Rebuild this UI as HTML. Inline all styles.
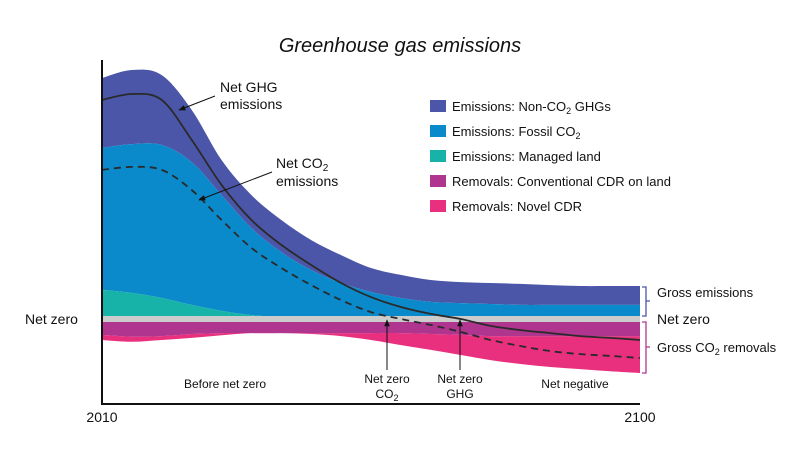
<!DOCTYPE html>
<html><head><meta charset="utf-8"><style>
body{margin:0;background:#fff;}
svg{display:block;font-family:"Liberation Sans",sans-serif;}
</style></head><body>
<svg id="c" width="800" height="460" viewBox="0 0 800 460">
<defs><marker id="ah" viewBox="0 0 10 10" refX="9" refY="5" markerWidth="7" markerHeight="7" orient="auto"><path d="M0,1 L10,5 L0,9 z" fill="#111"/></marker></defs>
<text x="400" y="52" text-anchor="middle" font-size="20" font-style="italic" fill="#111">Greenhouse gas emissions</text>
<g id="areas"></g>
<g id="lines"></g>
<line x1="102" y1="60" x2="102" y2="405" stroke="#111" stroke-width="2"/>
<line x1="101" y1="404" x2="640" y2="404" stroke="#111" stroke-width="2"/>
<text x="102" y="422" text-anchor="middle" font-size="14" fill="#111">2010</text>
<text x="640" y="422" text-anchor="middle" font-size="14" fill="#111">2100</text>
<text x="25" y="324" font-size="14" fill="#111">Net zero</text>
<g font-size="13" fill="#111">
<rect x="430" y="100" width="16" height="12" fill="#4b56a8"/><text x="452" y="111">Emissions: Non-CO<tspan font-size="9" dy="3">2</tspan><tspan dy="-3"> GHGs</tspan></text>
<rect x="430" y="125" width="16" height="12" fill="#0a8acb"/><text x="452" y="136">Emissions: Fossil CO<tspan font-size="9" dy="3">2</tspan></text>
<rect x="430" y="150" width="16" height="12" fill="#17b3a8"/><text x="452" y="161">Emissions: Managed land</text>
<rect x="430" y="175" width="16" height="12" fill="#b0358f"/><text x="452" y="186">Removals: Conventional CDR on land</text>
<rect x="430" y="200" width="16" height="12" fill="#e8307f"/><text x="452" y="211">Removals: Novel CDR</text>
</g>
<g font-size="14" fill="#111">
<text x="220" y="92">Net GHG</text><text x="220" y="109">emissions</text>
<line x1="215" y1="96" x2="179" y2="110" stroke="#111" stroke-width="1" marker-end="url(#ah)"/>
<text x="276" y="168">Net CO<tspan font-size="10" dy="3">2</tspan></text><text x="276" y="186">emissions</text>
<line x1="272" y1="172" x2="199" y2="200" stroke="#111" stroke-width="1" marker-end="url(#ah)"/>
<line x1="387" y1="370" x2="387" y2="320" stroke="#111" stroke-width="1" marker-end="url(#ah)"/>
<line x1="460" y1="370" x2="460" y2="320" stroke="#111" stroke-width="1" marker-end="url(#ah)"/>
<g font-size="12" text-anchor="middle">
<text x="387" y="383">Net zero</text><text x="387" y="398">CO<tspan font-size="9" dy="3">2</tspan></text>
<text x="460" y="383">Net zero</text><text x="460" y="398">GHG</text>
<text x="225" y="388">Before net zero</text>
<text x="575" y="388">Net negative</text>
</g>
<path d="M642,287 h4 v29 h-4 M646,301 h4" fill="none" stroke="#4b56a8" stroke-width="1.3"/>
<path d="M642,322 h4 v51 h-4 M646,347 h4" fill="none" stroke="#b0358f" stroke-width="1.3"/>
<text x="657" y="297" font-size="13">Gross emissions</text>
<text x="657" y="324" font-size="14">Net zero</text>
<text x="657" y="352" font-size="13">Gross CO<tspan font-size="9" dy="3">2</tspan><tspan dy="-3"> removals</tspan></text>
</g>
</svg>
<script>
const years=[2010,2015,2020,2025,2030,2035,2040,2045,2050,2055,2060,2065,2070,2075,2080,2085,2090,2095,2100];
const land=[9.7,8.7,7,4.7,2.7,1.3,0.7,0.3,0,0,0,0,0,0,0,0,0,0,0];
const fossil=[47.3,49.6,51,47.6,38.6,29,21.6,16,12,9,7,5.7,5.3,5,4.7,4.7,4.7,4.7,4.7];
const nonCO2=[23.3,24.7,23.3,17.4,11.7,11,10.7,10,9.3,8,7.7,7.3,7,7,7,6.6,6.3,6.3,6.3];
const convCDR=[5.3,5.9,5.7,5,4.7,4.7,4.7,4.7,4.7,4.7,4.7,5,5.3,5.7,5.7,5.7,5.7,5.7,5.7];
const novelCDR=[1.7,1.7,1.3,1.3,0.7,0,0,0.3,1,2.3,4,5.3,6.7,8,9.3,10.3,11,11.7,12.3];
const netGHG=[73,75,73,59.7,44.7,33,24.7,18,12,7.3,4,1.7,0,-2.3,-3.7,-4.7,-5.7,-6.3,-7];
const netCO2=[49.7,50.7,49.7,43,33,23.7,17,11.3,6.3,2.3,0,-2,-4.3,-7,-9,-10.7,-11.7,-12.3,-13];
const X=y=>102+(y-2010)*(538/90);
const Y=v=>319-v*3;
const NS="http://www.w3.org/2000/svg";
function spline(pts){let d="M"+pts[0][0]+","+pts[0][1];
for(let i=0;i<pts.length-1;i++){const p0=pts[Math.max(0,i-1)],p1=pts[i],p2=pts[i+1],p3=pts[Math.min(pts.length-1,i+2)];
d+=" C"+(p1[0]+(p2[0]-p0[0])/6)+","+(p1[1]+(p2[1]-p0[1])/6)+" "+(p2[0]-(p3[0]-p1[0])/6)+","+(p2[1]-(p3[1]-p1[1])/6)+" "+p2[0]+","+p2[1];}return d;}
function band(lo,hi,color,name){
const top=years.map((y,i)=>[X(y),Y(hi[i])]);
const bot=years.map((y,i)=>[X(y),Y(lo[i])]).reverse();
const d=spline(top)+" L"+spline(bot).slice(1)+" Z";
const p=document.createElementNS(NS,"path");p.setAttribute("d",d);p.setAttribute("fill",color);


document.getElementById("areas").appendChild(p);}
const z=years.map(()=>0);
const l1=land.slice();
const l2=land.map((v,i)=>v+fossil[i]);
const l3=l2.map((v,i)=>v+nonCO2[i]);
const r1=convCDR.map(v=>-v);
const r2=convCDR.map((v,i)=>-(v+novelCDR[i]));
band(l2,l3,"#4b56a8","area-non-co2-ghgs");
band(l1,l2,"#0a8acb","area-fossil-co2");
band(z,l1,"#17b3a8","area-managed-land");
band(r2,r1,"#e8307f","area-novel-cdr");
band(r1,z,"#b0358f","area-conventional-cdr");
const zl=document.createElementNS(NS,"line");
zl.setAttribute("x1",102);zl.setAttribute("x2",640);zl.setAttribute("y1",Y(0));zl.setAttribute("y2",Y(0));
zl.setAttribute("stroke","#cccccc");zl.setAttribute("stroke-width","6");


document.getElementById("areas").appendChild(zl);
function line(vals,dash,name){const p=document.createElementNS(NS,"path");
p.setAttribute("d",spline(years.map((y,i)=>[X(y),Y(vals[i])])));
p.setAttribute("fill","none");p.setAttribute("stroke","#2a2a2a");p.setAttribute("stroke-width","1.8");
if(dash)p.setAttribute("stroke-dasharray","7,5");


document.getElementById("lines").appendChild(p);}
line(netGHG,false,"net-ghg-line");
line(netCO2,true,"net-co2-line");
</script>
</body></html>
